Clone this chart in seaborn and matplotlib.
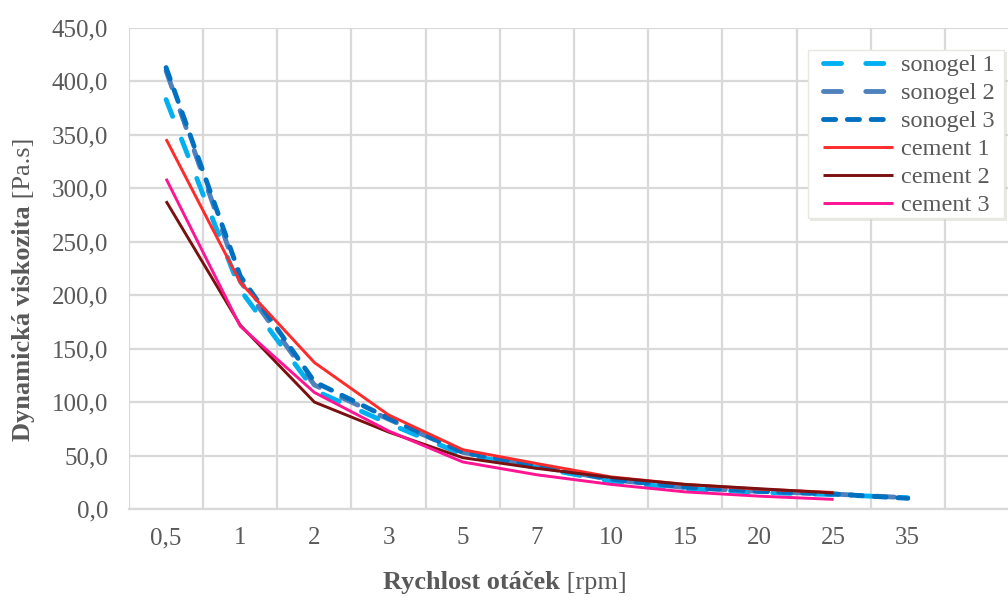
import numpy as np
import pandas as pd
import matplotlib
matplotlib.use("Agg")
import matplotlib.pyplot as plt
from matplotlib.patches import Rectangle
from matplotlib.ticker import FuncFormatter
import seaborn as sns

# Rotational speed categories [rpm]
rpm_labels = ["0,5", "1", "2", "3", "5", "7", "10", "15", "20", "25", "35"]

# Dynamic viscosity [Pa.s]
sonogel_1 = [383, 205, 111, 80, 51, 39, 26, 19, 15.5, 13.5, 10.5]
sonogel_2 = [410, 213, 116, 84, 53, 40, 27.5, 20, 16.5, 14, 10.5]
sonogel_3 = [413, 218, 119, 85, 53, 40.5, 28, 20.5, 16.5, 14, 10]
cement_1 = [346, 212, 137, 88, 55.5, 42.5, 30, 23, 18.5, 15.5]
cement_2 = [288, 172, 100, 72, 48, 38, 29.5, 23, 19, 15]
cement_3 = [309, 171, 109, 73, 44, 32, 23, 16, 12, 9]

series_names = ["sonogel 1", "sonogel 2", "sonogel 3", "cement 1", "cement 2", "cement 3"]
series_values = [sonogel_1, sonogel_2, sonogel_3, cement_1, cement_2, cement_3]

styles = {
    "sonogel 1": dict(color="#00b0f0", lw=3.5, ls=(0, (3.7, 5.0))),
    "sonogel 2": dict(color="#4f81bd", lw=3.5, ls=(0, (3.7, 5.0))),
    "sonogel 3": dict(color="#0070c0", lw=3.5, ls=(0, (2.5, 2.4))),
    "cement 1": dict(color="#ff2b2b", lw=2.1, ls="-"),
    "cement 2": dict(color="#7a1010", lw=2.1, ls="-"),
    "cement 3": dict(color="#ff1493", lw=2.1, ls="-"),
}

sns.set_theme(style="white")
plt.rcParams["font.family"] = ["Liberation Serif", "DejaVu Serif"]

GRAY_TEXT = "#595959"
GRID = "#d9d9d9"
TICK_FS = 18
LABEL_FS = 19
LEGEND_FS = 17.5
W, H = 1008, 597

fig = plt.figure(figsize=(W / 100, H / 100), dpi=100)
ax = fig.add_axes([129 / W, 88 / H, 890 / W, 481 / H])

for name, vals in zip(series_names, series_values):
    st = styles[name]
    df = pd.DataFrame({"rpm": rpm_labels[:len(vals)], "visc": vals})
    sns.lineplot(data=df, x="rpm", y="visc", ax=ax, sort=False,
                 color=st["color"], linewidth=st["lw"], linestyle=st["ls"],
                 dash_capstyle="round", solid_capstyle="butt",
                 label=name, legend=False)

ax.set_xlim(-0.5, 11.5)
ax.set_ylim(0, 450)
ax.set_yticks(np.arange(0, 451, 50))
ax.yaxis.set_major_formatter(FuncFormatter(lambda v, p: f"{v:.1f}".replace(".", ",")))
ax.set_xticks(np.arange(len(rpm_labels)))
ax.set_xticklabels(rpm_labels)
ax.set_xticks(np.arange(-0.5, 12, 1), minor=True)

ax.grid(False)
ax.yaxis.grid(True, which="major", color=GRID, lw=1.6)
ax.xaxis.grid(True, which="minor", color=GRID, lw=1.6)
ax.set_axisbelow(True)
for s in ["top", "right", "left"]:
    ax.spines[s].set_visible(False)
ax.spines["bottom"].set_color(GRID)
ax.spines["bottom"].set_linewidth(1.6)
ax.tick_params(axis="both", which="both", length=0, labelsize=TICK_FS, labelcolor=GRAY_TEXT)
ax.tick_params(axis="y", pad=15)
ax.tick_params(axis="x", pad=13)
ax.set_xlabel("")
ax.set_ylabel("")

# Axis titles: bold quantity followed by regular unit
xl = fig.text(383 / W, 1 - 582 / H, "Rychlost otáček", fontsize=LABEL_FS,
              fontweight="bold", color=GRAY_TEXT, ha="left", va="center")
fig.canvas.draw()
ax.annotate(" [rpm]", xy=(1, 0), xycoords=xl, ha="left", va="bottom",
            fontsize=LABEL_FS, color=GRAY_TEXT, annotation_clip=False)

yl = fig.text(24 / W, 1 - 441 / H, "Dynamická viskozita", fontsize=LABEL_FS,
              fontweight="bold", color=GRAY_TEXT, rotation=90, ha="center", va="bottom")
ax.annotate(" [Pa.s]", xy=(1, 1), xycoords=yl, ha="right", va="bottom",
            rotation=90, fontsize=LABEL_FS, color=GRAY_TEXT, annotation_clip=False)

# Legend box with a soft shadow, drawn behind the frameless legend
box_l, box_t, box_r, box_b = 808, 50, 1004, 218
fig.patches.append(Rectangle(((box_l + 2) / W, 1 - (box_b + 3) / H),
                             (box_r - box_l + 1) / W, (box_b - box_t + 1) / H,
                             transform=fig.transFigure, facecolor="#d6d6ce",
                             edgecolor="none", alpha=0.55, zorder=3))
fig.patches.append(Rectangle((box_l / W, 1 - box_b / H),
                             (box_r - box_l) / W, (box_b - box_t) / H,
                             transform=fig.transFigure, facecolor="white",
                             edgecolor="#e8e8e2", lw=1, zorder=3.5))

handles, labels = ax.get_legend_handles_labels()
leg = fig.legend(handles, labels, loc="upper left",
                 bbox_to_anchor=(823 / W, 1 - 54 / H),
                 fontsize=LEGEND_FS, handlelength=2.9, handletextpad=0.3,
                 labelspacing=0.25, borderpad=0, borderaxespad=0,
                 frameon=False)
for t in leg.get_texts():
    t.set_color(GRAY_TEXT)

fig.savefig("out.png", dpi=100)
